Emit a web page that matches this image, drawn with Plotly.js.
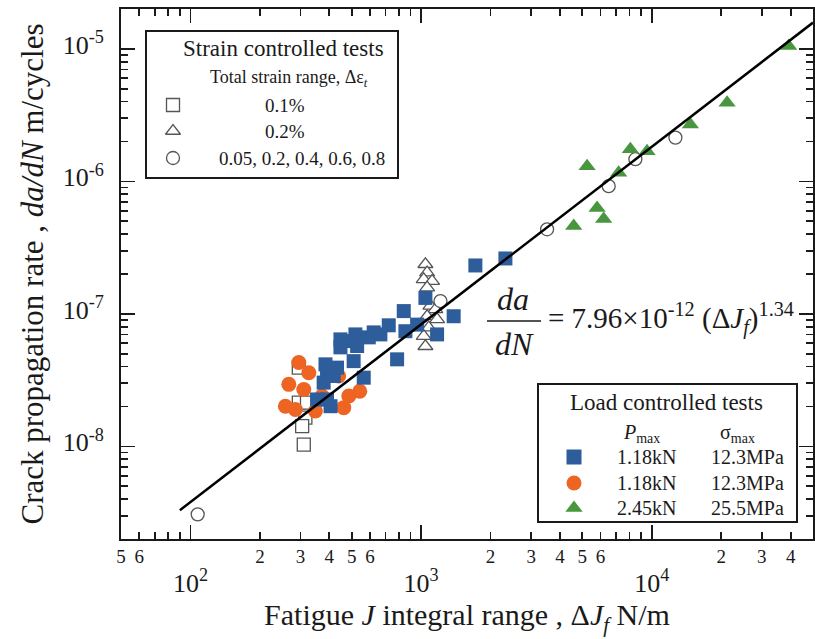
<!DOCTYPE html>
<html>
<head>
<meta charset="utf-8">
<script src="https://cdn.plot.ly/plotly-3.0.1.min.js"></script>
<style>html,body{margin:0;padding:0;background:#fff;}#chart{width:815px;height:639px;}</style>
</head>
<body>
<div id="chart"></div>
<script>
// ---- data ----
const blueX = [1719, 2320, 841, 1044, 1384, 1173, 961, 855, 724, 666, 623, 593, 519, 510, 447, 447, 528, 510, 787, 385, 432, 391, 378, 418, 564, 354, 391, 405];
const blueY = [2.32e-7, 2.62e-7, 1.05e-7, 1.32e-7, 9.6e-8, 7.0e-8, 8.3e-8, 7.4e-8, 8.2e-8, 7.0e-8, 7.25e-8, 6.65e-8, 7.0e-8, 6.23e-8, 6.42e-8, 5.59e-8, 5.72e-8, 4.4e-8, 4.54e-8, 4.16e-8, 3.93e-8, 3.49e-8, 3.03e-8, 3.4e-8, 3.3e-8, 2.26e-8, 2.26e-8, 2.01e-8];
const orangeX = [295, 326, 267, 310, 258, 285, 348, 372, 462, 486, 542, 439];
const orangeY = [4.3e-8, 3.6e-8, 2.94e-8, 2.69e-8, 2.01e-8, 1.9e-8, 1.85e-8, 2.4e-8, 1.96e-8, 2.4e-8, 2.61e-8, 3.4e-8];
const greenX = [39220, 21210, 14700, 9540, 8075, 7185, 5243, 5793, 6186, 4587];
const greenY = [1.05e-5, 3.93e-6, 2.69e-6, 1.69e-6, 1.75e-6, 1.16e-6, 1.30e-6, 6.3e-7, 5.2e-7, 4.6e-7];
const openSqX = [295, 295, 320, 315, 305, 310];
const openSqY = [3.93e-8, 2.14e-8, 2.14e-8, 1.65e-8, 1.42e-8, 1.03e-8];
const openTriX = [1044, 1062, 1026, 1116, 1062, 1097, 1153, 1062, 1173, 1079, 1026, 1044];
const openTriY = [2.37e-7, 2.05e-7, 1.82e-7, 1.77e-7, 1.58e-7, 1.15e-7, 1.08e-7, 9.6e-8, 9.1e-8, 7.87e-8, 6.8e-8, 5.7e-8];
const openCircX = [107.5, 1213, 3517, 6505, 8490, 12660];
const openCircY = [3.07e-9, 1.25e-7, 4.35e-7, 9.2e-7, 1.47e-6, 2.14e-6];
const fitX = [90, 50000];
const fitY = [3.3e-9, 1.58e-5];

// ---- ticks ----
const xMajorVals = [100, 1000, 10000];
const xMajorText = ['10<sup>2</sup>', '10<sup>3</sup>', '10<sup>4</sup>'];
const xMinorVals = [50, 60, 70, 80, 90, 200, 300, 400, 500, 600, 700, 800, 900, 2000, 3000, 4000, 5000, 6000, 7000, 8000, 9000, 20000, 30000, 40000, 49990];
const xMinorText = ['5', '6', ' ', ' ', ' ', '2', '3', '4', '5', '6', ' ', ' ', ' ', '2', '3', '4', '5', '6', ' ', ' ', ' ', '2', '3', '4', '5'];
const yMajorVals = [1e-8, 1e-7, 1e-6, 1e-5];
const yMajorText = ['10<sup>-8</sup>', '10<sup>-7</sup>', '10<sup>-6</sup>', '10<sup>-5</sup>'];
const yMinorVals = [3e-9,4e-9,5e-9,6e-9,7e-9,8e-9,9e-9,2e-8,3e-8,4e-8,5e-8,6e-8,7e-8,8e-8,9e-8,2e-7,3e-7,4e-7,5e-7,6e-7,7e-7,8e-7,9e-7,2e-6,3e-6,4e-6,5e-6,6e-6,7e-6,8e-6,9e-6];

// legend entries
const strainLabels = ['0.1%', '0.2%', '0.05, 0.2, 0.4, 0.6, 0.8'];
const loadP = ['1.18kN', '1.18kN', '2.45kN'];
const loadS = ['12.3MPa', '12.3MPa', '25.5MPa'];

const FONT = 'Liberation Serif';
const INK = '#1a1a1a';
const BLUE = '#2d5d9b', ORANGE = '#ee6423', GREEN = '#48963d', GREYL = '#555';

const openMk = (sym) => ({symbol: sym, size: 13, color: '#fff', line: {color: GREYL, width: 1.3}});

const traces = [
  {x: openSqX, y: openSqY, mode: 'markers', marker: openMk('square'), hoverinfo: 'skip'},
  {x: openTriX, y: openTriY, mode: 'markers', marker: openMk('triangle-up'), hoverinfo: 'skip'},
  {x: openCircX, y: openCircY, mode: 'markers', marker: openMk('circle'), hoverinfo: 'skip'},
  {x: orangeX, y: orangeY, mode: 'markers', marker: {symbol: 'circle', size: 15, color: ORANGE}, hoverinfo: 'skip'},
  {x: blueX, y: blueY, mode: 'markers', marker: {symbol: 'square', size: 14, color: BLUE}, hoverinfo: 'skip'},
  {x: greenX, y: greenY, mode: 'markers', marker: {symbol: 'triangle-up', size: 15, color: GREEN}, hoverinfo: 'skip'},
  // fit line on the overlay (minor-tick) axes, which share the same log ranges
  {x: fitX, y: fitY, xaxis: 'x2', yaxis: 'y2', mode: 'lines', line: {color: '#000', width: 2.5}, hoverinfo: 'skip'},
  // legend symbols (pixel-like overlay axes)
  {x: [173, 173, 173], y: [105, 131, 158], xaxis: 'x3', yaxis: 'y3', mode: 'markers',
   marker: {symbol: ['square', 'triangle-up', 'circle'], size: 13, color: '#fff', line: {color: GREYL, width: 1.3}}, hoverinfo: 'skip'},
  {x: [574, 574, 574], y: [457, 483, 508], xaxis: 'x3', yaxis: 'y3', mode: 'markers',
   marker: {symbol: ['square', 'circle', 'triangle-up'], size: 15, color: [BLUE, ORANGE, GREEN]}, hoverinfo: 'skip'}
];

const ann = (x, y, text, size, extra) => Object.assign({
  x: x, y: y, xref: 'x3', yref: 'y3', text: text, showarrow: false,
  font: {family: FONT, size: size, color: INK}, xanchor: 'center', yanchor: 'middle'
}, extra || {});

const annotations = [
  ann(283, 48, 'Strain controlled tests', 23),
  ann(289, 78, 'Total strain range, Δε<sub><i>t</i></sub>', 18),
  ann(285, 105, strainLabels[0], 19),
  ann(285, 131, strainLabels[1], 19),
  ann(302, 158, strainLabels[2], 19),
  ann(666, 402, 'Load controlled tests', 23),
  ann(641, 433, '<i>P</i><sub>max</sub>', 20),
  ann(737, 433, 'σ<sub>max</sub>', 20),
  ann(646, 457, loadP[0], 20), ann(747, 457, loadS[0], 20),
  ann(646, 483, loadP[1], 20), ann(747, 483, loadS[1], 20),
  ann(646, 508, loadP[2], 20), ann(747, 508, loadS[2], 20),
  ann(513, 299, '<i>da</i>', 32),
  ann(514, 344, '<i>dN</i>', 32),
  ann(546, 318, '= 7.96×10<sup>-12</sup> (Δ<i>J<sub>f</sub></i>)<sup>1.34</sup>', 29, {xanchor: 'left'})
];

const shapes = [
  {type: 'rect', xref: 'x3', yref: 'y3', x0: 146, x1: 398, y0: 31, y1: 178, line: {color: INK, width: 2}, fillcolor: '#fff', layer: 'below'},
  {type: 'rect', xref: 'x3', yref: 'y3', x0: 538, x1: 797, y0: 384, y1: 522, line: {color: INK, width: 2}, fillcolor: '#fff', layer: 'below'},
  {type: 'line', xref: 'x3', yref: 'y3', x0: 487, x1: 541, y0: 321, y1: 321, line: {color: INK, width: 1.5}}
];

const xr = [Math.log10(50), Math.log10(50000)];
const yr = [Math.log10(2e-9), Math.log10(2e-5)];

const layout = {
  width: 815, height: 639,
  margin: {l: 121, r: 2, t: 9, b: 100},
  paper_bgcolor: '#fff', plot_bgcolor: '#fff',
  showlegend: false,
  font: {family: FONT, color: INK},
  xaxis: {
    type: 'log', range: xr, tickmode: 'array', tickvals: xMajorVals, ticktext: xMajorText,
    ticks: 'inside', ticklen: 14, tickwidth: 1.7, tickcolor: INK,
    showline: true, linewidth: 2, linecolor: INK, mirror: 'ticks',
    showgrid: false, zeroline: false,
    tickfont: {family: FONT, size: 26, color: INK}, ticklabelstandoff: 20,
    title: {text: 'Fatigue <i>J</i> integral range , Δ<i>J<sub>f</sub></i> N/m', font: {family: FONT, size: 30, color: INK}, standoff: 2}
  },
  xaxis2: {
    type: 'log', range: xr, overlaying: 'x', anchor: 'y2', side: 'bottom',
    tickmode: 'array', tickvals: xMinorVals, ticktext: xMinorText,
    ticks: 'inside', ticklen: 7, tickwidth: 1.7, tickcolor: INK, mirror: 'ticks',
    showline: false, showgrid: false, zeroline: false,
    tickfont: {family: FONT, size: 19, color: INK}, ticklabelstandoff: 4
  },
  yaxis: {
    type: 'log', range: yr, tickmode: 'array', tickvals: yMajorVals, ticktext: yMajorText,
    ticks: 'inside', ticklen: 14, tickwidth: 1.7, tickcolor: INK,
    showline: true, linewidth: 2, linecolor: INK, mirror: 'ticks',
    showgrid: false, zeroline: false,
    tickfont: {family: FONT, size: 26, color: INK}, ticklabelstandoff: 10, ticklabelshift: -4,
    title: {text: 'Crack propagation rate , <i>da/dN</i> m/cycles', font: {family: FONT, size: 31, color: INK}, standoff: 10}
  },
  yaxis2: {
    type: 'log', range: yr, overlaying: 'y', anchor: 'x2', side: 'left',
    tickmode: 'array', tickvals: yMinorVals, showticklabels: false,
    ticks: 'inside', ticklen: 7, tickwidth: 1.7, tickcolor: INK, mirror: 'ticks',
    showline: false, showgrid: false, zeroline: false
  },
  xaxis3: {range: [121, 813], overlaying: 'x', anchor: 'y3', visible: false, fixedrange: true},
  yaxis3: {range: [539, 9], overlaying: 'y', anchor: 'x3', visible: false, fixedrange: true},
  shapes: shapes,
  annotations: annotations
};

Plotly.newPlot('chart', traces, layout, {displayModeBar: false, staticPlot: true});
</script>
</body>
</html>
